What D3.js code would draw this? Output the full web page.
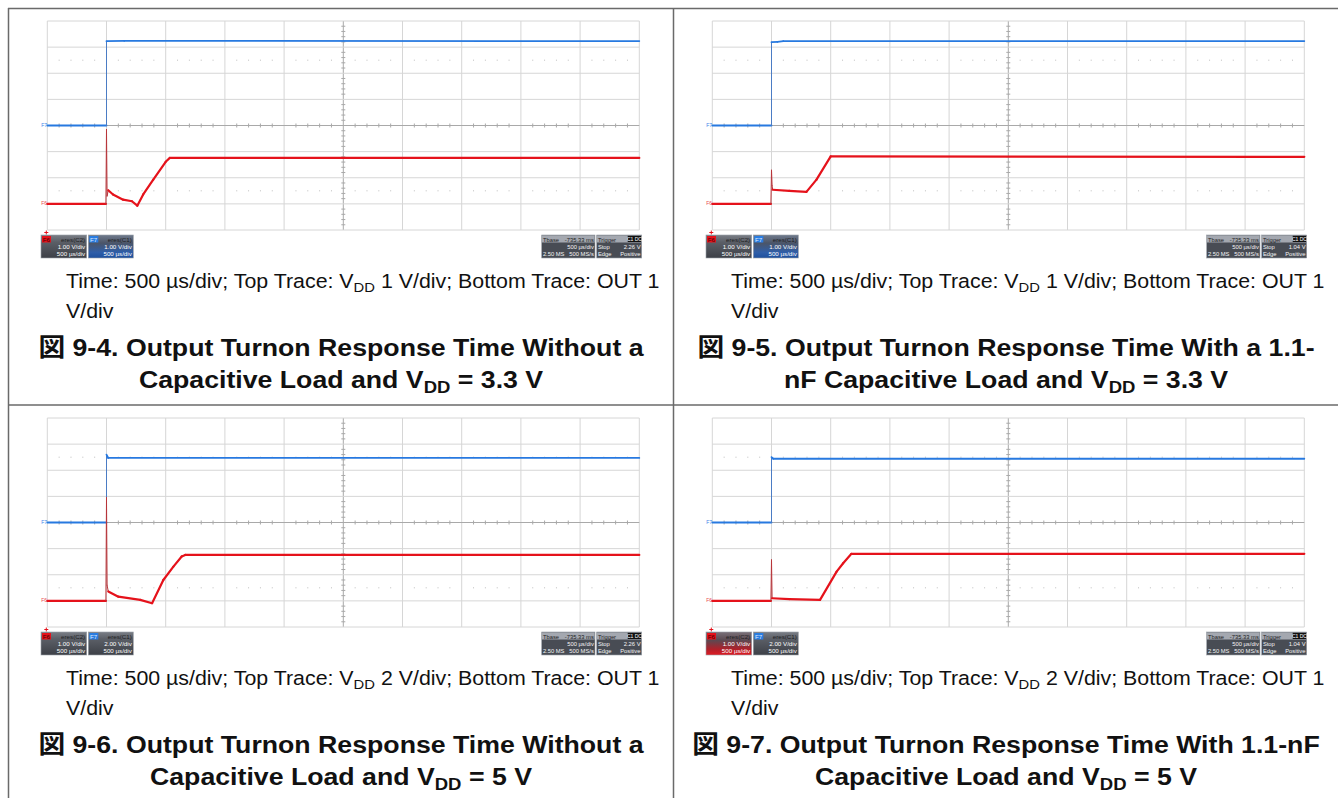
<!DOCTYPE html>
<html><head><meta charset="utf-8">
<script src="https://cdn.jsdelivr.net/npm/d3@7"></script>
<style>html,body{margin:0;padding:0;background:#fff;}svg{display:block;}</style>
</head><body>
<script>
// ---------- DATA (time in divisions of 500 µs, voltage in vertical divisions) ----------
const panelIds = ["9-4", "9-5", "9-6", "9-7"];

const vdd94 = [[0,0],[1.0,0],[1.0,3.23],[1.3,3.24],[10,3.23]];
const out94 = [[0,-3.0],[0.99,-3.0],[1.0,-0.15],[1.01,-2.7],[1.03,-2.48],[1.11,-2.64],[1.28,-2.84],[1.43,-2.9],[1.52,-3.07],[1.62,-2.64],[1.79,-2.07],[2.0,-1.39],[2.07,-1.24],[10,-1.24]];

const vdd95 = [[0,0],[1.0,0],[1.0,3.19],[1.1,3.2],[1.2,3.23],[10,3.23]];
const out95 = [[0,-3.0],[0.99,-3.0],[1.0,-1.71],[1.01,-2.3],[1.02,-2.46],[1.3,-2.5],[1.59,-2.54],[1.76,-2.07],[2.0,-1.18],[10,-1.2]];

const vdd96 = [[0,0],[1.0,0],[1.0,2.6],[1.03,2.47],[10,2.47]];
const out96 = [[0,-3.0],[0.99,-3.0],[1.0,0.95],[1.01,-2.4],[1.03,-2.64],[1.2,-2.84],[1.57,-2.96],[1.77,-3.09],[1.96,-2.2],[2.13,-1.69],[2.27,-1.3],[2.33,-1.24],[10,-1.24]];

const vdd97 = [[0,0],[1.0,0],[1.0,2.5],[1.03,2.44],[10,2.44]];
const out97 = [[0,-3.0],[0.99,-3.0],[1.0,-1.43],[1.01,-2.9],[1.3,-2.93],[1.82,-2.96],[2.1,-1.88],[2.21,-1.56],[2.35,-1.2],[10,-1.2]];

const vddTraces = [vdd94, vdd95, vdd96, vdd97];
const outTraces = [out94, out95, out96, out97];

const f6Scales = ["1.00 V/div", "1.00 V/div", "1.00 V/div", "1.00 V/div"];
const f7Scales = ["1.00 V/div", "1.00 V/div", "2.00 V/div", "2.00 V/div"];
const timeScale = "500 µs/div";
const tbaseValue = "-735.33 ms";
const triggerLevels = ["2.26 V", "1.04 V", "2.26 V", "1.04 V"];
const selectedBox = ["F7", "F7", "none", "F6"];

const topTraceScales = ["1 V/div", "1 V/div", "2 V/div", "2 V/div"];
const titleLine1 = [
  "図 9-4. Output Turnon Response Time Without a",
  "図 9-5. Output Turnon Response Time With a 1.1-",
  "図 9-6. Output Turnon Response Time Without a",
  "図 9-7. Output Turnon Response Time With 1.1-nF"
];
const titleLine2Prefix = ["Capacitive Load and V", "nF Capacitive Load and V", "Capacitive Load and V", "Capacitive Load and V"];
const titleLine2Suffix = [" = 3.3 V", " = 3.3 V", " = 5 V", " = 5 V"];

// ---------- LAYOUT ----------
const W = 1338, H = 798;
const svg = d3.select("body").append("svg").attr("width", W).attr("height", H);
svg.append("rect").attr("width", W).attr("height", H).attr("fill", "#fff");

const panelOrigins = [[8, 8], [673, 8], [8, 405], [673, 405]];

const defs = svg.append("defs");
function grad(id, stops) {
  const g = defs.append("linearGradient").attr("id", id).attr("x1", 0).attr("y1", 0).attr("x2", 0).attr("y2", 1);
  stops.forEach(s => g.append("stop").attr("offset", s[0]).attr("stop-color", s[1]));
}
grad("boxGray", [[0, "#7a7e86"], [0.3, "#5b5f67"], [1, "#3d4047"]]);
grad("boxBlue", [[0, "#6f7a8c"], [0.35, "#4b5568"], [0.75, "#2f5ea8"], [1, "#1d4f9e"]]);
grad("boxRed", [[0, "#7a7078"], [0.35, "#5a4a52"], [0.75, "#b0202a"], [1, "#e01a22"]]);

const FONT = "'Liberation Sans', Arial, 'Noto Sans CJK JP', sans-serif";

function stretch(sel, s, ax) {
  sel.attr("transform", `translate(${ax},0) scale(${s},1) translate(${-ax},0)`);
}

panelIds.forEach((pid, i) => {
  const [ox, oy] = panelOrigins[i];
  const gx = ox + 39.3, gy = oy + 13;
  const gw = 592, gh = 209;
  const x = d3.scaleLinear().domain([0, 10]).range([gx, gx + gw]);
  const y = d3.scaleLinear().domain([-4, 4]).range([gy + gh, gy]);
  const g = svg.append("g");

  // grid
  d3.range(0, 11).forEach(k => {
    g.append("line").attr("x1", x(k)).attr("x2", x(k)).attr("y1", y(-4)).attr("y2", y(4))
      .attr("stroke", k === 5 ? "#a9a9a9" : "#d6d6d6").attr("stroke-width", 1);
  });
  d3.range(-4, 5).forEach(k => {
    g.append("line").attr("x1", x(0)).attr("x2", x(10)).attr("y1", y(k)).attr("y2", y(k))
      .attr("stroke", k === 0 ? "#a9a9a9" : "#d6d6d6").attr("stroke-width", 1);
  });
  d3.range(0, 50).forEach(k => {
    if (k % 5 === 0) return;
    const t = k * 0.2;
    g.append("line").attr("x1", x(t)).attr("x2", x(t)).attr("y1", y(0) - 2).attr("y2", y(0) + 2).attr("stroke", "#a9a9a9");
  });
  d3.range(0, 40).forEach(k => {
    if (k % 5 === 0) return;
    const v = -4 + k * 0.2;
    g.append("line").attr("x1", x(5) - 2).attr("x2", x(5) + 2).attr("y1", y(v)).attr("y2", y(v)).attr("stroke", "#a9a9a9");
  });
  [2.5, -2.5].forEach(v => {
    d3.range(0, 50).forEach(k => {
      if (k % 5 === 0) return;
      g.append("rect").attr("x", x(k * 0.2) - 0.5).attr("y", y(v) - 0.5).attr("width", 1).attr("height", 1).attr("fill", "#bdbdbd");
    });
  });

  function drawTrace(data, color, thinColor, w) {
    for (let k = 0; k < data.length - 1; k++) {
      const a = data[k], b = data[k + 1];
      const steep = Math.abs(x(b[0]) - x(a[0])) < 1.5;
      g.append("line").attr("x1", x(a[0])).attr("y1", y(a[1])).attr("x2", x(b[0])).attr("y2", y(b[1]))
        .attr("stroke", steep ? thinColor : color).attr("stroke-width", steep ? 1 : w).attr("stroke-linecap", "round");
    }
  }
  drawTrace(vddTraces[i], "#2779e0", "#4b7cc4", 1.8);
  drawTrace(outTraces[i], "#e5121b", "#b8353a", 2.2);

  g.append("text").attr("x", x(0) - 6).attr("y", y(vddTraces[i][0][1]) + 1.5).attr("font-size", 5)
    .attr("font-family", FONT).attr("fill", "#3d86e8").text("F7");
  g.append("text").attr("x", x(0) - 6).attr("y", y(outTraces[i][0][1]) + 1.5).attr("font-size", 5)
    .attr("font-family", FONT).attr("fill", "#e84a50").text("F6");
  g.append("line").attr("x1", x(0) - 3).attr("x2", x(0) + 1).attr("y1", gy + gh + 2.5).attr("y2", gy + gh + 2.5).attr("stroke", "#e5121b");
  g.append("line").attr("x1", x(0) - 1).attr("x2", x(0) - 1).attr("y1", gy + gh + 0.5).attr("y2", gy + gh + 4.5).attr("stroke", "#e5121b");

  // status boxes
  const by = gy + gh + 5, bh = 23, fs = 6.2;
  function chanBox(bx, bw, label, labelColor, src, scale, fillId) {
    g.append("rect").attr("x", bx).attr("y", by).attr("width", bw).attr("height", bh).attr("fill", `url(#${fillId})`)
      .attr("stroke", "#9aa0a8").attr("stroke-width", 0.6);
    g.append("rect").attr("x", bx + 1).attr("y", by + 1).attr("width", 9).attr("height", 6.5).attr("fill", labelColor);
    g.append("text").attr("x", bx + 1.8).attr("y", by + 6.6).attr("font-size", fs).attr("font-family", FONT)
      .attr("fill", label === "F6" ? "#400" : "#dfe9ff").text(label);
    g.append("text").attr("x", bx + bw - 1.5).attr("y", by + 6.6).attr("font-size", fs).attr("font-family", FONT)
      .attr("text-anchor", "end").attr("fill", "#1e1e22").text(src);
    g.append("text").attr("x", bx + bw - 1.5).attr("y", by + 14).attr("font-size", fs).attr("font-family", FONT)
      .attr("text-anchor", "end").attr("fill", "#fff").text(scale);
    g.append("text").attr("x", bx + bw - 1.5).attr("y", by + 21.3).attr("font-size", fs).attr("font-family", FONT)
      .attr("text-anchor", "end").attr("fill", "#fff").text(timeScale);
  }
  chanBox(gx - 6.3, 45.7, "F6", "#e5121b", "eres(C2)", f6Scales[i], selectedBox[i] === "F6" ? "boxRed" : "boxGray");
  chanBox(gx + 41, 45, "F7", "#2a7de1", "eres(C1)", f7Scales[i], selectedBox[i] === "F7" ? "boxBlue" : "boxGray");

  function infoBox(bx, bw, rows) {
    g.append("rect").attr("x", bx).attr("y", by).attr("width", bw).attr("height", bh).attr("fill", "#484c54")
      .attr("stroke", "#9aa0a8").attr("stroke-width", 0.6);
    g.append("rect").attr("x", bx + 0.3).attr("y", by + 0.3).attr("width", bw - 0.6).attr("height", 7.2).attr("fill", "#a4a8b0");
    rows.forEach((r, j) => {
      const ty = by + 6.6 + j * 7.4;
      const col = j === 0 ? "#1e1e22" : "#f4f4f4";
      if (r[0]) g.append("text").attr("x", bx + 1.2).attr("y", ty).attr("font-size", fs - 0.4).attr("font-family", FONT).attr("fill", col).text(r[0]);
      if (r[1]) g.append("text").attr("x", bx + bw - 1.2).attr("y", ty).attr("font-size", fs - 0.4).attr("font-family", FONT).attr("text-anchor", "end").attr("fill", col).text(r[1]);
    });
  }
  const tbx = gx + 494.4;
  infoBox(tbx, 53.3, [["Tbase", tbaseValue], ["", timeScale], ["2.50 MS", "500 MS/s"]]);
  infoBox(tbx + 55, 45, [["Trigger", ""], ["Stop", triggerLevels[i]], ["Edge", "Positive"]]);
  g.append("rect").attr("x", tbx + 55 + 45 - 14).attr("y", by + 0.8).attr("width", 13.3).attr("height", 6.2).attr("fill", "#111");
  g.append("text").attr("x", tbx + 55 + 45 - 7.3).attr("y", by + 6.2).attr("font-size", 5).attr("font-family", FONT)
    .attr("text-anchor", "middle").attr("fill", "#fff").text("C1 DC");

  // captions
  const cx = ox + 58;
  const cap = g.append("text").attr("x", cx).attr("y", oy + 280).attr("font-size", 19.5).attr("font-family", FONT).attr("fill", "#111");
  cap.append("tspan").text("Time: 500 µs/div; Top Trace: V");
  cap.append("tspan").attr("font-size", 13.5).attr("dy", 4.5).text("DD");
  cap.append("tspan").attr("dy", -4.5).text(" " + topTraceScales[i] + "; Bottom Trace: OUT 1");
  const capScale = 594 / cap.node().getComputedTextLength();
  stretch(cap, capScale, cx);
  const cap2 = g.append("text").attr("x", cx).attr("y", oy + 310).attr("font-size", 19.5).attr("font-family", FONT).attr("fill", "#111").text("V/div");
  stretch(cap2, capScale, cx);

  const tcx = ox + 333;
  const t1 = g.append("text").attr("x", tcx).attr("y", oy + 348.5).attr("font-size", 24.5).attr("font-weight", "bold")
    .attr("font-family", FONT).attr("text-anchor", "middle").attr("fill", "#111").text(titleLine1[i]);
  const t2 = g.append("text").attr("x", tcx).attr("y", oy + 380).attr("font-size", 24.5).attr("font-weight", "bold")
    .attr("font-family", FONT).attr("text-anchor", "middle").attr("fill", "#111");
  t2.append("tspan").text(titleLine2Prefix[i]);
  t2.append("tspan").attr("font-size", 17).attr("dy", 5.5).text("DD");
  t2.append("tspan").attr("dy", -5.5).text(titleLine2Suffix[i]);
  [t1, t2].forEach(t => stretch(t, 1.09, tcx));
});

// table borders
const bc = "#6a6a6a";
svg.append("line").attr("x1", 8).attr("x2", W).attr("y1", 8.5).attr("y2", 8.5).attr("stroke", bc).attr("stroke-width", 1.5);
svg.append("line").attr("x1", 8).attr("x2", W).attr("y1", 405).attr("y2", 405).attr("stroke", bc).attr("stroke-width", 1.5);
svg.append("line").attr("x1", 8.5).attr("x2", 8.5).attr("y1", 8).attr("y2", H).attr("stroke", bc).attr("stroke-width", 1.5);
svg.append("line").attr("x1", 673.5).attr("x2", 673.5).attr("y1", 8).attr("y2", H).attr("stroke", bc).attr("stroke-width", 1.5);
</script>
</body></html>
